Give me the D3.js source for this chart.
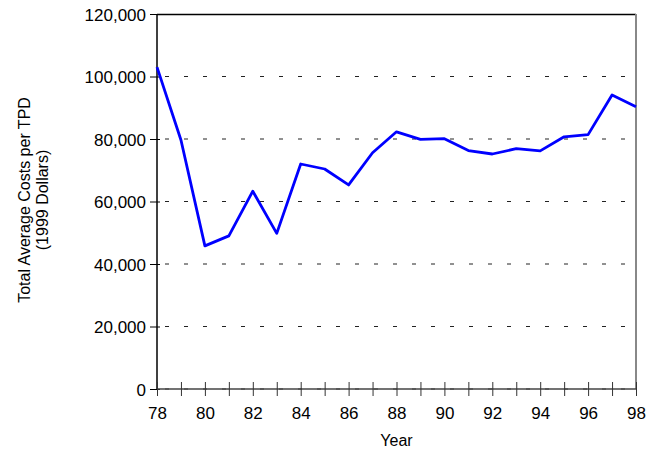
<!DOCTYPE html>
<html>
<head>
<meta charset="utf-8">
<script src="https://cdn.jsdelivr.net/npm/d3@7"></script>
<style>
  body { margin: 0; background: #fff; }
  text { font-family: "Liberation Sans", Arial, sans-serif; fill: #000; }
</style>
</head>
<body>
<svg id="chart" width="658" height="449"></svg>
<script>
const years = [78, 79, 80, 81, 82, 83, 84, 85, 86, 87, 88, 89, 90, 91, 92, 93, 94, 95, 96, 97, 98];
const costs = [103000, 79700, 45800, 49000, 63300, 49800, 72000, 70400, 65300, 75600, 82300,
  79900, 80100, 76300, 75200, 76900, 76200, 80700, 81400, 94100, 90300];
const yTicks = [0, 20000, 40000, 60000, 80000, 100000, 120000];
const xTickLabels = [78, 80, 82, 84, 86, 88, 90, 92, 94, 96, 98];

const margin = { top: 14, right: 22, bottom: 60, left: 157 };
const width = 658 - margin.left - margin.right;
const height = 449 - margin.top - margin.bottom;

const svg = d3.select('#chart');
const g = svg.append('g').attr('transform', `translate(${margin.left},${margin.top})`);

const x = d3.scaleLinear().domain([78, 98]).range([0, width]);
const y = d3.scaleLinear().domain([0, 120000]).range([height, 0]);

// dashed gridlines
g.selectAll('.grid')
  .data(yTicks.filter((d) => d < 120000))
  .join('line')
  .attr('class', 'grid')
  .attr('x1', 0)
  .attr('x2', width)
  .attr('y1', (d) => y(d))
  .attr('y2', (d) => y(d))
  .attr('stroke', '#222')
  .attr('stroke-width', 1)
  .attr('stroke-dasharray', '4,15')
  .attr('stroke-dashoffset', -8);

// frame: top black, right gray
g.append('line').attr('x1', 0).attr('x2', width).attr('y1', 0.5).attr('y2', 0.5)
  .attr('stroke', '#000').attr('stroke-width', 1.5);
g.append('line').attr('x1', width).attr('x2', width).attr('y1', 0).attr('y2', height)
  .attr('stroke', '#888').attr('stroke-width', 2);

// y axis
const yAxis = g.append('g')
  .call(d3.axisLeft(y).tickValues(yTicks).tickFormat(d3.format(',')).tickSize(7).tickPadding(4));
yAxis.select('.domain').attr('stroke', '#000').attr('stroke-width', 1.5).attr('d', `M0,0V${height}`);
yAxis.selectAll('.tick line').attr('x2', -7).attr('x1', 3).attr('stroke', '#000');
yAxis.selectAll('text').style('font-size', '17px').attr('dy', '0.36em');

// x axis
const xAxis = g.append('g')
  .attr('transform', `translate(0,${height})`)
  .call(d3.axisBottom(x).tickValues(years).tickFormat((d) => (xTickLabels.includes(d) ? d : '')).tickSize(7).tickPadding(11));
xAxis.select('.domain').attr('stroke', '#444').attr('stroke-width', 1.5).attr('d', `M0,0H${width}`);
xAxis.selectAll('.tick line').attr('y1', -7).attr('y2', 7).attr('stroke', '#333');
xAxis.selectAll('text').style('font-size', '17px');

// line
const line = d3.line()
  .x((d, i) => x(years[i]))
  .y((d) => y(d));

g.append('path')
  .datum(costs)
  .attr('fill', 'none')
  .attr('stroke', '#0000ff')
  .attr('stroke-width', 2.8)
  .attr('stroke-linejoin', 'round')
  .attr('d', line);

// axis titles
svg.append('text')
  .attr('x', margin.left + width / 2)
  .attr('y', 446)
  .attr('text-anchor', 'middle')
  .style('font-size', '16px')
  .text('Year');

const yTitle = svg.append('text')
  .attr('transform', 'translate(30,200) rotate(-90)')
  .attr('text-anchor', 'middle')
  .style('font-size', '16px');
yTitle.append('tspan').attr('x', 0).attr('dy', 0).text('Total Average Costs per TPD');
yTitle.append('tspan').attr('x', 0).attr('dy', 18).text('(1999 Dollars)');
</script>
</body>
</html>
